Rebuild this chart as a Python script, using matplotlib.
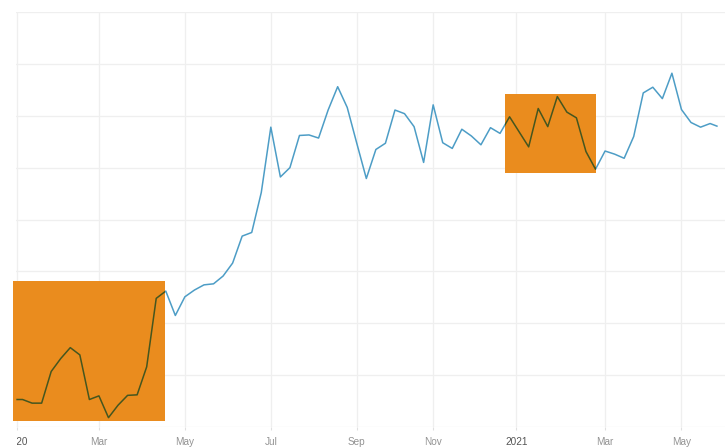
import numpy as np
import pandas as pd
import matplotlib
matplotlib.use("Agg")
import matplotlib.pyplot as plt
import matplotlib.dates as mdates
from matplotlib.patches import Rectangle
from matplotlib.transforms import Bbox, TransformedBbox, blended_transform_factory

# weekly series (Sundays) plus the partial first / last points
dates = ([pd.Timestamp("2020-01-01")]
         + list(pd.date_range("2020-01-05", "2021-05-23", freq="W-SUN"))
         + [pd.Timestamp("2021-05-28")])
values = [5.3, 5.3, 4.6, 4.6, 10.7, 13.2, 15.3, 13.9, 5.3, 6.0,
          1.8, 4.2, 6.1, 6.2, 11.6, 24.8, 26.2, 21.5, 25.1, 26.4,
          27.4, 27.6, 29.1, 31.6, 36.8, 37.5, 45.2, 57.8, 48.2, 50.0,
          56.2, 56.3, 55.7, 61.1, 65.6, 61.6, 54.7, 47.9, 53.5, 54.7,
          61.1, 60.4, 57.9, 51.0, 62.1, 54.8, 53.7, 57.4, 56.1, 54.4,
          57.7, 56.6, 59.8, 56.9, 54.0, 61.4, 57.9, 63.7, 60.7, 59.6,
          53.1, 49.7, 53.2, 52.6, 51.8, 56.0, 64.4, 65.5, 63.3, 68.2,
          61.2, 58.7, 57.8, 58.5, 58.0]

tick_dates = ["2020-01-01", "2020-03-01", "2020-05-03", "2020-07-05", "2020-09-06",
              "2020-11-01", "2021-01-01", "2021-03-07", "2021-05-02"]
tick_labels = ["2020", "Mar", "May", "Jul", "Sep", "Nov", "2021", "Mar", "May"]

# highlighted windows: (start, end, low, high)
highlights = [("2019-12-29", "2020-04-18 09:00", 1.2, 28.1),
              ("2020-12-23 14:00", "2021-02-28 02:00", 49.0, 64.2)]

line_color = "#4d9dc6"
box_color = "#ea8c1e"
# multiply blend of the line over the orange box
dark_line = "#45561f"

fig = plt.figure(figsize=(7.25, 4.47), dpi=100)
ax = fig.add_axes([16 / 725, 20 / 447, 709 / 725, 415 / 447])

ax.plot(dates, values, color=line_color, lw=1.1, zorder=2)

for start, end, lo, hi in highlights:
    x0 = mdates.date2num(pd.Timestamp(start))
    x1 = mdates.date2num(pd.Timestamp(end))
    rect = Rectangle((x0, lo), x1 - x0, hi - lo, facecolor=box_color,
                     edgecolor="none", zorder=3, clip_on=False)
    ax.add_patch(rect)
    inner, = ax.plot(dates, values, color=dark_line, lw=1.1, zorder=4)
    inner.set_clip_path(rect)

ax.set_xlim(pd.Timestamp("2019-12-31 05:00"), pd.Timestamp("2021-06-02 22:00"))
ax.set_ylim(0, 80)
ax.set_yticks(np.arange(0, 81, 10))
ax.set_yticklabels([])
ax.set_xticks(pd.to_datetime(tick_dates))
ax.set_xticklabels(tick_labels)

ax.grid(True, color="#efefef", lw=0.9)
ax.set_axisbelow(True)
for s in ax.spines.values():
    s.set_visible(False)
ax.tick_params(axis="y", length=0)
ax.tick_params(axis="x", length=2, color="#e0e0e0", pad=5,
               labelsize=7.2, labelcolor="#939393")

for lbl in ax.get_xticklabels():
    lbl.set_fontfamily("Liberation Sans")
    if lbl.get_text() in ("2020", "2021"):
        lbl.set_color("#555555")

# the first year label is cut at the left edge, as in the source
trans = blended_transform_factory(ax.transData, ax.transAxes)
clip = TransformedBbox(Bbox([[mdates.date2num(pd.Timestamp("2020-01-01")), -1],
                             [mdates.date2num(pd.Timestamp("2022-01-01")), 2]]), trans)
first = ax.xaxis.get_major_ticks()[0].label1
first.set_clip_on(True)
first.set_clip_box(clip)

fig.savefig("out.png", dpi=100)
